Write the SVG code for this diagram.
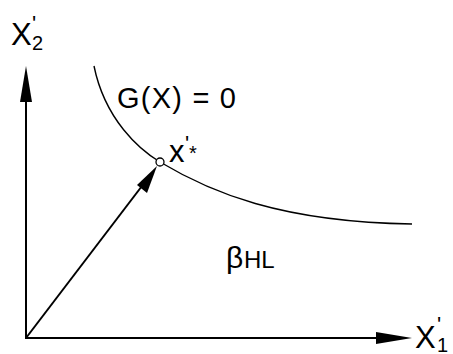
<svg xmlns="http://www.w3.org/2000/svg" width="453" height="354" viewBox="0 0 453 354">
<style>
.ax{stroke:#000;stroke-width:2;fill:none}
.cv{stroke:#000;stroke-width:1.4;fill:none}
.ah{fill:#000;stroke:none}
text{font-family:"Liberation Sans",Arial,sans-serif;fill:#000}
</style>
<g id="connectors">
<line class="ax" x1="26" y1="339" x2="26" y2="100"/>
<polygon class="ah" points="26,66 20,102 32,102"/>
<line class="ax" x1="25" y1="338" x2="380" y2="338"/>
<polygon class="ah" points="412,338 376,332 376,344"/>
<line class="ax" x1="26" y1="338" x2="145" y2="182"/>
<polygon class="ah" points="157,166 137,185 147,193"/>
</g>
<g id="curve">
<path class="cv" d="M94,66 C105,120 140,150 160,162 C210,192 280,222 412,224"/>
<circle cx="160" cy="162" r="4" fill="#fff" stroke="#000" stroke-width="1.3"/>
</g>
<g id="label-x2">
<text x="11" y="45" font-size="31">X</text>
<text x="32" y="31" font-size="22">'</text>
<text x="32" y="50" font-size="20">2</text>
</g>
<g id="label-x1">
<text x="415" y="348" font-size="31">X</text>
<text x="437" y="332" font-size="22">'</text>
<text x="437" y="352" font-size="20">1</text>
</g>
<g id="label-g">
<text x="117" y="108" font-size="29" textLength="119" lengthAdjust="spacing">G(X) = 0</text>
</g>
<g id="label-xstar">
<text x="169" y="162" font-size="31">x</text>
<text x="185" y="151" font-size="22">'</text>
<text x="189" y="160" font-size="20">*</text>
</g>
<g id="label-beta">
<text x="226" y="268" font-size="30">β</text>
<text x="244" y="268" font-size="24">HL</text>
</g>
</svg>
